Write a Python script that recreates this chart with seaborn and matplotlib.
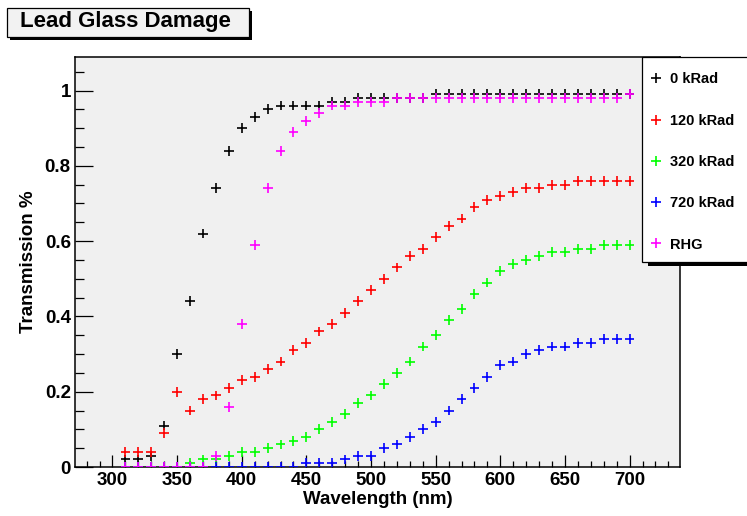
import numpy as np
import pandas as pd
import matplotlib
matplotlib.use("Agg")
import matplotlib.pyplot as plt
import seaborn as sns
from matplotlib.lines import Line2D
from matplotlib.patches import Rectangle
from matplotlib.ticker import MultipleLocator, FuncFormatter


# transmission vs wavelength
wavelength = [310, 320, 330, 340, 350, 360, 370, 380, 390, 400,
              410, 420, 430, 440, 450, 460, 470, 480, 490, 500,
              510, 520, 530, 540, 550, 560, 570, 580, 590, 600,
              610, 620, 630, 640, 650, 660, 670, 680, 690, 700]

t_0krad = [0.02, 0.02, 0.03, 0.11, 0.30, 0.44, 0.62, 0.74, 0.84, 0.90,
           0.93, 0.95, 0.96, 0.96, 0.96, 0.96, 0.97, 0.97, 0.98, 0.98,
           0.98, 0.98, 0.98, 0.98, 0.99, 0.99, 0.99, 0.99, 0.99, 0.99,
           0.99, 0.99, 0.99, 0.99, 0.99, 0.99, 0.99, 0.99, 0.99, 0.99]

t_120krad = [0.04, 0.04, 0.04, 0.09, 0.20, 0.15, 0.18, 0.19, 0.21, 0.23,
             0.24, 0.26, 0.28, 0.31, 0.33, 0.36, 0.38, 0.41, 0.44, 0.47,
             0.50, 0.53, 0.56, 0.58, 0.61, 0.64, 0.66, 0.69, 0.71, 0.72,
             0.73, 0.74, 0.74, 0.75, 0.75, 0.76, 0.76, 0.76, 0.76, 0.76]

t_320krad = [0.00, 0.00, 0.00, 0.00, 0.00, 0.01, 0.02, 0.02, 0.03, 0.04,
             0.04, 0.05, 0.06, 0.07, 0.08, 0.10, 0.12, 0.14, 0.17, 0.19,
             0.22, 0.25, 0.28, 0.32, 0.35, 0.39, 0.42, 0.46, 0.49, 0.52,
             0.54, 0.55, 0.56, 0.57, 0.57, 0.58, 0.58, 0.59, 0.59, 0.59]

t_720krad = [0.00, 0.00, 0.00, 0.00, 0.00, 0.00, 0.00, 0.00, 0.00, 0.00,
             0.00, 0.00, 0.00, 0.00, 0.01, 0.01, 0.01, 0.02, 0.03, 0.03,
             0.05, 0.06, 0.08, 0.10, 0.12, 0.15, 0.18, 0.21, 0.24, 0.27,
             0.28, 0.30, 0.31, 0.32, 0.32, 0.33, 0.33, 0.34, 0.34, 0.34]

t_rhg = [0.00, 0.00, 0.00, 0.00, 0.00, 0.00, 0.00, 0.03, 0.16, 0.38,
         0.59, 0.74, 0.84, 0.89, 0.92, 0.94, 0.96, 0.96, 0.97, 0.97,
         0.97, 0.98, 0.98, 0.98, 0.98, 0.98, 0.98, 0.98, 0.98, 0.98,
         0.98, 0.98, 0.98, 0.98, 0.98, 0.98, 0.98, 0.98, 0.98, 0.99]

series_names = ["0 kRad", "120 kRad", "320 kRad", "720 kRad", "RHG"]
series_colors = ["#000000", "#ff0000", "#00ff00", "#0000ff", "#ff00ff"]
series_values = [t_0krad, t_120krad, t_320krad, t_720krad, t_rhg]

sns.set_style("ticks")
plt.rcParams["font.family"] = ["Liberation Sans", "DejaVu Sans"]
plt.rcParams["font.weight"] = "bold"
plt.rcParams["text.color"] = "black"
plt.rcParams["axes.labelcolor"] = "black"
plt.rcParams["xtick.color"] = "black"
plt.rcParams["ytick.color"] = "black"

frames = []
for name, vals in zip(series_names, series_values):
    frames.append(pd.DataFrame({"wavelength": wavelength,
                                "transmission": vals,
                                "sample": name}))
data = pd.concat(frames, ignore_index=True)

W, H = 747, 516
fig = plt.figure(figsize=(W / 100, H / 100), dpi=100)
fig.patch.set_facecolor("white")
ax = fig.add_axes([75 / W, 49 / H, 605 / W, 410 / H])
ax.set_facecolor("#f0f0f0")

sns.scatterplot(data=data, x="wavelength", y="transmission", hue="sample",
                palette=dict(zip(series_names, series_colors)),
                marker="+", s=50, linewidth=1.2, legend=False, ax=ax,
                zorder=3)

ax.set_xlim(271, 739)
ax.set_ylim(0, 1.089)
ax.xaxis.set_major_locator(MultipleLocator(50))
ax.xaxis.set_minor_locator(MultipleLocator(10))
ax.yaxis.set_major_locator(MultipleLocator(0.2))
ax.yaxis.set_minor_locator(MultipleLocator(0.05))
ax.yaxis.set_major_formatter(FuncFormatter(lambda v, p: f"{v:g}"))

for s in ax.spines.values():
    s.set_visible(True)
    s.set_color("black")
    s.set_linewidth(1.1)

ax.tick_params(axis="x", which="major", direction="in", length=8.6, width=0.9,
               labelsize=13.5, pad=3.5)
ax.tick_params(axis="x", which="minor", direction="in", length=4.3, width=0.9)
ax.tick_params(axis="y", which="major", direction="in", length=13, width=0.9,
               labelsize=13.5, pad=3)
ax.tick_params(axis="y", which="minor", direction="in", length=6.5, width=0.9)

ax.set_xlabel("Wavelength (nm)", fontsize=13.5, fontweight="bold")
ax.set_ylabel("Transmission %", fontsize=13.5, fontweight="bold")
ax.xaxis.set_label_coords(0.5, -0.058)
ax.yaxis.set_label_coords(-0.062, 0.5)

# title box with shadow
fig.add_artist(Rectangle((10 / W, 1 - 40 / H), 242 / W, 29 / H,
                         transform=fig.transFigure, facecolor="black",
                         edgecolor="black", lw=0))
fig.add_artist(Rectangle((7 / W, 1 - 37 / H), 242 / W, 29 / H,
                         transform=fig.transFigure, facecolor="#f2f2f2",
                         edgecolor="black", lw=0.9))
fig.text(20.5 / W, 1 - 27.5 / H, "Lead Glass Damage", fontsize=16,
         fontweight="bold", ha="left", va="baseline")

# legend box with shadow, running off the right edge
fig.add_artist(Rectangle((648 / W, 1 - 266 / H), 120 / W, 205 / H,
                         transform=fig.transFigure, facecolor="black",
                         edgecolor="black", lw=0))
fig.add_artist(Rectangle((642 / W, 1 - 262 / H), 120 / W, 205 / H,
                         transform=fig.transFigure, facecolor="white",
                         edgecolor="black", lw=0.9))
handles = [Line2D([], [], linestyle="none", marker="+", markersize=7,
                  markeredgewidth=1.2, color=c) for c in series_colors]
fig.legend(handles, series_names, loc="upper left",
           bbox_to_anchor=(635 / W, 1 - 57 / H), frameon=False,
           prop={"weight": "bold", "size": 10.5},
           handlelength=0.8, handletextpad=0.55, borderpad=1.06,
           borderaxespad=0, labelspacing=1.87)

fig.savefig("out.png", dpi=100)
